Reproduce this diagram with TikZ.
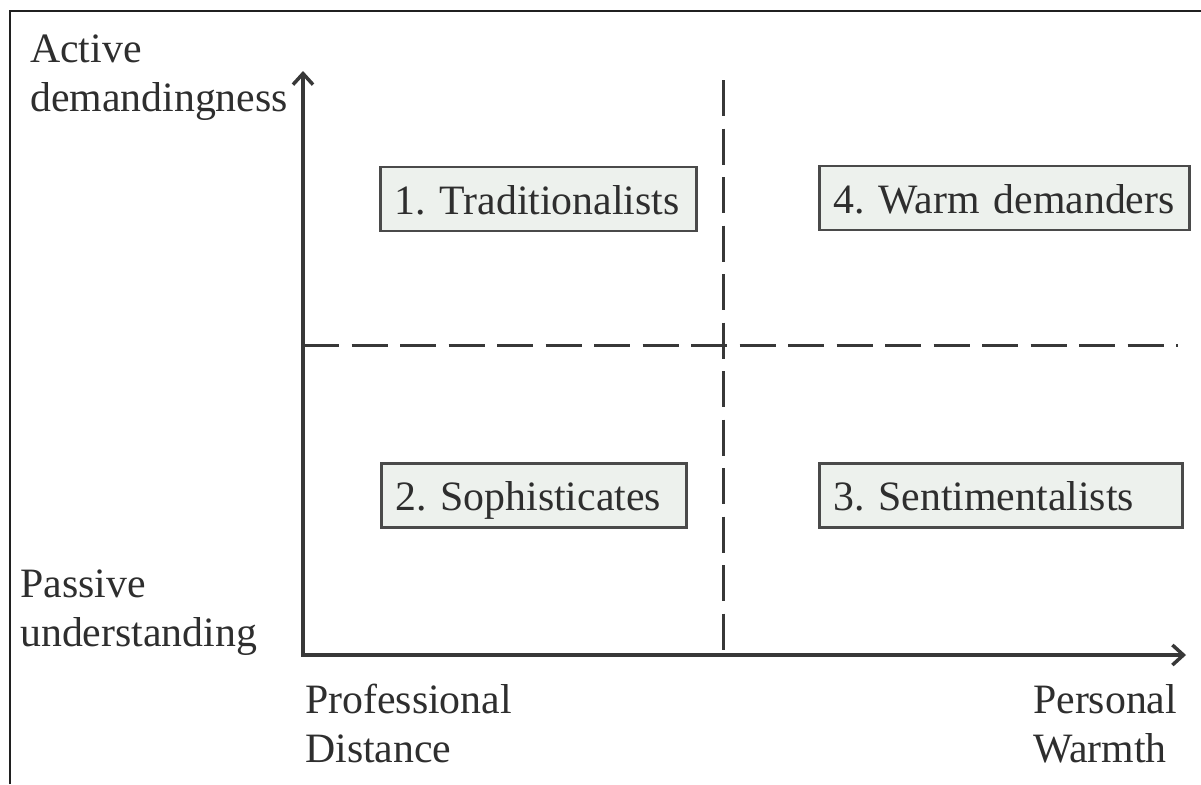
\documentclass[tikz,border=0pt]{standalone}
\usepackage{fontspec}
\setmainfont{Liberation Serif}
\usetikzlibrary{arrows.meta}
\definecolor{ink}{HTML}{2E2E2E}
\definecolor{rulegray}{HTML}{383838}
\definecolor{boxfill}{HTML}{EDF1ED}
\definecolor{boxedge}{HTML}{4A4A4A}
\definecolor{framegray}{HTML}{202020}

\begin{document}
\begin{tikzpicture}[x=1pt,y=-1pt,
  bigfont/.style={font=\fontsize{41.8}{49}\selectfont\frenchspacing},
  lbl/.style={bigfont, text=ink, inner sep=0, anchor=base west, align=left, text width=300},
  quad/.style={draw=boxedge, fill=boxfill, line width=2.5, bigfont, text=ink,
    anchor=west, inner xsep=14, inner ysep=9, text height=38, text depth=8, align=left},
  barb/.tip={Straight Barb[length=11,width=20,line width=3.5]},
  axis/.style={draw=rulegray, line width=3.5, line join=miter, barb-barb},
  divider/.style={draw=rulegray, line width=3, dash pattern=on 36 off 12.5},
  frame/.style={draw=framegray, line width=2}]

  \useasboundingbox (0,0) rectangle (1201,784);

  % outer frame (only its top and left edges fall inside the page)
  \draw[frame] (10,784) |- (1201,11);

  % axes
  \coordinate (ytip) at (303,71);
  \coordinate (origin) at (303,655);
  \coordinate (xtip) at (1186,655);
  \draw[axis] (ytip) -- (origin) -- (xtip);

  % quadrant dividers
  \coordinate (hleft) at (303,345);
  \coordinate (hright) at (1178,345);
  \coordinate (vtop) at (723,80);
  \coordinate (vbottom) at (723,655);
  \draw[divider] (hleft) -- (hright);
  \draw[divider] (vtop) -- (vbottom);

  % quadrant labels
  \node[quad, text width=288] (trad) at (379,199) {\mbox{1. Traditionalists}};
  \node[quad, text width=342] (warm) at (818,198) {\mbox{4. Warm demanders}};
  \node[quad, text width=277] (soph) at (380,495.5) {\mbox{2. Sophisticates}};
  \node[quad, text width=335] (sent) at (818,495.5) {\mbox{3. Sentimentalists}};

  % axis end labels
  \node[lbl] (active) at (30,63) {Active\\demandingness};
  \node[lbl] (passive) at (20,597) {Passive\\understanding};
  \node[lbl] (professional) at (305,713) {Professional\\Distance};
  \node[lbl, text width=160] (personal) at (1033,713) {Personal\\Warmth};
\end{tikzpicture}
\end{document}
